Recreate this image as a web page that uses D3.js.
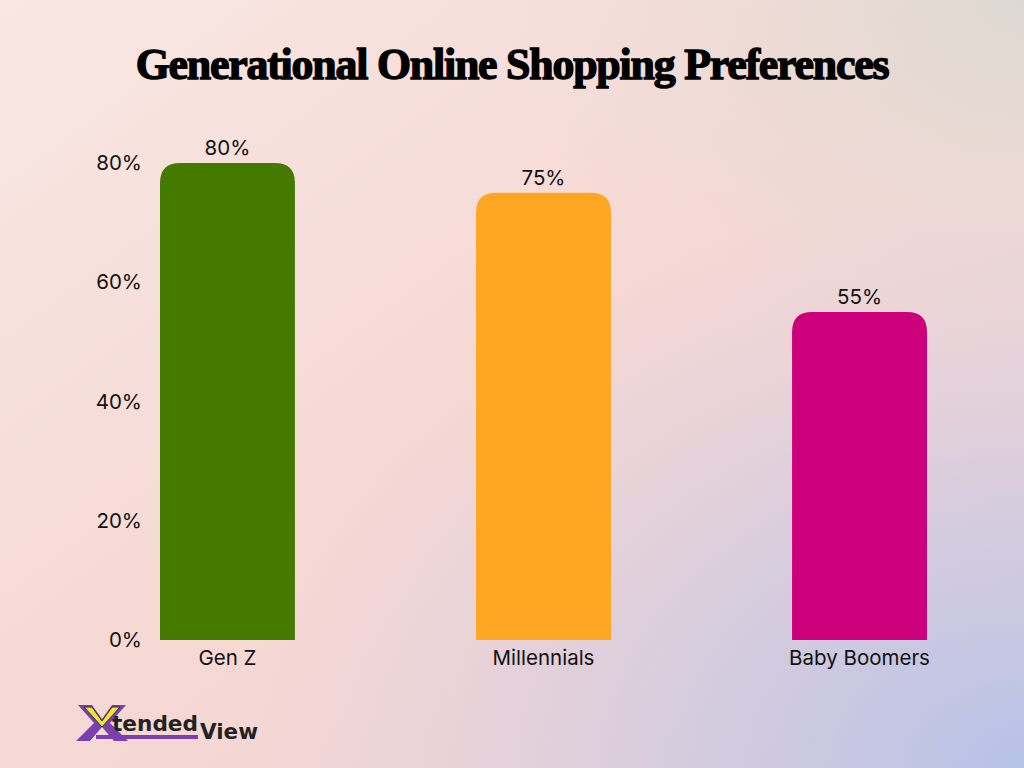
<!DOCTYPE html>
<html><head><meta charset="utf-8">
<script src="https://cdn.jsdelivr.net/npm/d3@7"></script>
<style>html,body{margin:0;padding:0;width:1024px;height:768px;overflow:hidden}</style>
</head><body><svg id="c" width="1024" height="768"></svg>
<script>
const categories = ["Gen Z", "Millennials", "Baby Boomers"];
const values = [80, 75, 55];
const colors = ["#457a00", "#ffa623", "#cc007a"];
const yTicks = [0, 20, 40, 60, 80];
const title = "Generational Online Shopping Preferences";

const svg = d3.select("#c");
const defs = svg.append("defs");
const lg = defs.append("linearGradient").attr("id","bg").attr("x1","0").attr("y1","0").attr("x2","1").attr("y2","1");
lg.append("stop").attr("offset","0").attr("stop-color","#f8e7e3");
lg.append("stop").attr("offset","0.5").attr("stop-color","#f6d8d4");
lg.append("stop").attr("offset","1").attr("stop-color","#efd2d6");
const rg = defs.append("radialGradient").attr("id","lav").attr("cx","1").attr("cy","1").attr("r","0.75");
rg.append("stop").attr("offset","0").attr("stop-color","#b6c2e8").attr("stop-opacity",1);
rg.append("stop").attr("offset","0.5").attr("stop-color","#c8c8e2").attr("stop-opacity",0.6);
rg.append("stop").attr("offset","1").attr("stop-color","#d8cfe0").attr("stop-opacity",0);
const rg2 = defs.append("radialGradient").attr("id","gry").attr("cx","1").attr("cy","0").attr("r","0.5");
rg2.append("stop").attr("offset","0").attr("stop-color","#ddd9d2").attr("stop-opacity",1);
rg2.append("stop").attr("offset","1").attr("stop-color","#e8dcd6").attr("stop-opacity",0);
svg.append("rect").attr("width",1024).attr("height",768).attr("fill","url(#bg)");
svg.append("rect").attr("width",1024).attr("height",768).attr("fill","url(#gry)");
svg.append("rect").attr("width",1024).attr("height",768).attr("fill","url(#lav)");

const t = svg.append("text").attr("x",512).attr("y",79).attr("text-anchor","middle")
  .attr("font-family","'Liberation Serif', 'DejaVu Serif', serif").attr("font-weight","bold")
  .attr("font-size",46).attr("letter-spacing","-1.2").attr("fill","#000").attr("stroke","#000").attr("stroke-width",1.4)
  .text(title);
const tw = t.node().getComputedTextLength();
if (tw > 0) t.attr("font-size", 46 * 755 / tw);

const x = d3.scaleBand().domain(categories).range([160, 927]).paddingInner(0.573).paddingOuter(0);
const y = d3.scaleLinear().domain([0, 80]).range([640, 163]);
const font = "Inter, 'Open Sans', sans-serif";
const fs = 20.5;

const yAxis = svg.append("g").attr("transform","translate(150,0)")
  .call(d3.axisLeft(y).tickValues(yTicks).tickFormat(d => d + "%").tickSize(0).tickPadding(8));
yAxis.select(".domain").remove();
yAxis.selectAll("text").attr("font-family",font).attr("font-size",fs).attr("fill","#111");

const xAxis = svg.append("g").attr("transform","translate(0,640)")
  .call(d3.axisBottom(x).tickSize(0).tickPadding(10));
xAxis.select(".domain").remove();
xAxis.selectAll("text").attr("font-family",font).attr("font-size",fs).attr("fill","#111");

const r = 20;
function barPath(x0, w, yTop, yBot) {
  const rr = Math.min(r, w/2, yBot - yTop);
  return `M${x0},${yBot}V${yTop+rr}Q${x0},${yTop} ${x0+rr},${yTop}H${x0+w-rr}Q${x0+w},${yTop} ${x0+w},${yTop+rr}V${yBot}Z`;
}
const data = categories.map((c,i)=>({c, v: values[i], col: colors[i]}));
svg.append("g").selectAll("path").data(data).join("path")
  .attr("d", d => barPath(x(d.c), x.bandwidth(), y(d.v), y(0)))
  .attr("fill", d => d.col);
svg.append("g").selectAll("text").data(data).join("text")
  .attr("x", d => x(d.c) + x.bandwidth()/2).attr("y", d => y(d.v) - 8)
  .attr("text-anchor","middle").attr("font-family",font).attr("font-size",fs).attr("fill","#111")
  .text(d => d.v + "%");

// logo
const logo = svg.append("g").attr("transform","translate(78,705)");
logo.append("path").attr("d","M0,0 H14 L24,14 L34,0 H48 L32,18 L50,36 H36 L24,22 L12,36 H-2 L16,18 Z").attr("fill","#7b3fb0");
logo.append("path").attr("d","M6,2 H14 L24,16 L34,2 H42 L24,22 Z").attr("fill","#f2e33a").attr("stroke","#333").attr("stroke-width",1);
logo.append("rect").attr("x",18).attr("y",30).attr("width",102).attr("height",4).attr("fill","#7b3fb0");
logo.append("text").attr("x",34).attr("y",26).attr("font-family","'DejaVu Sans', sans-serif").attr("font-weight","bold")
  .attr("font-size",22).attr("fill","#222").attr("textLength",86).attr("lengthAdjust","spacingAndGlyphs").text("tended");
logo.append("text").attr("x",122).attr("y",34).attr("font-family","'DejaVu Sans', sans-serif").attr("font-weight","bold")
  .attr("font-size",22).attr("fill","#222").attr("textLength",58).attr("lengthAdjust","spacingAndGlyphs").text("View");
</script></body></html>
